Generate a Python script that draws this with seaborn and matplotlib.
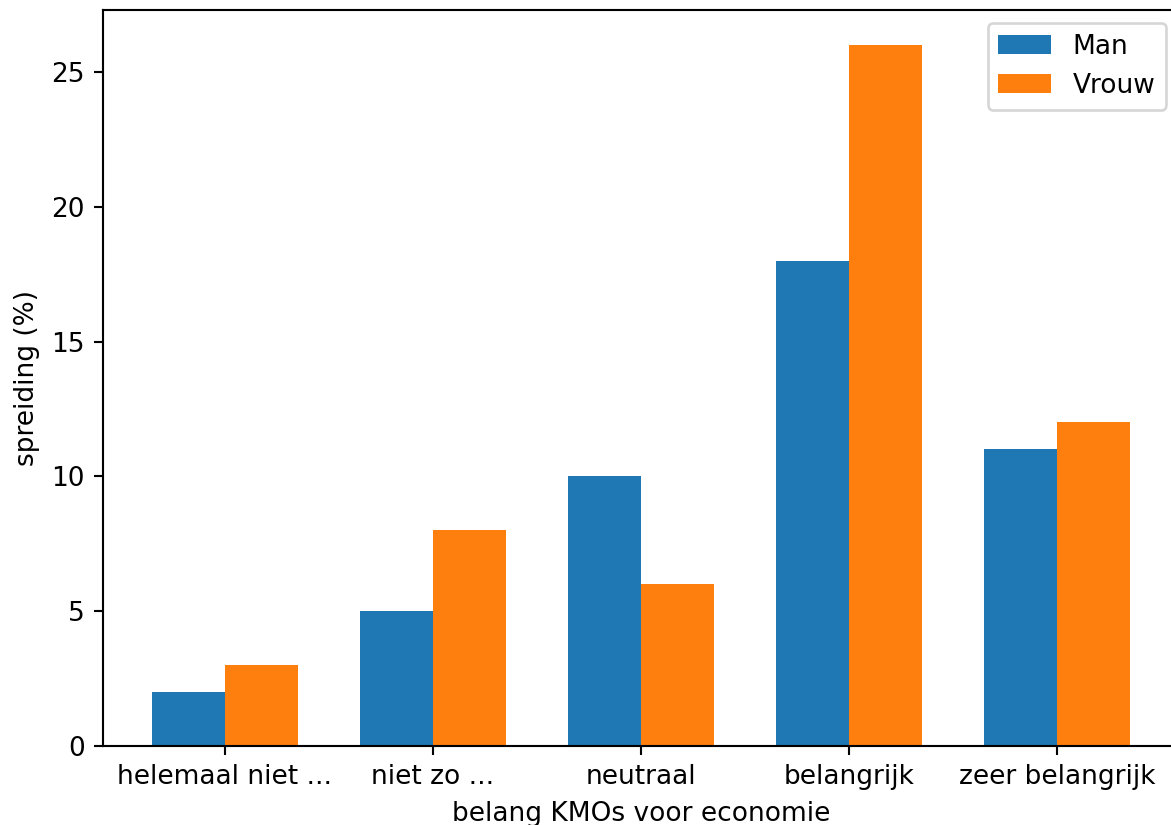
import seaborn as sns
import matplotlib.pyplot as plt
import pandas as pd

# -------------------------------
# Data
# -------------------------------
categories = ["helemaal niet ...", "niet zo ...", "neutraal", "belangrijk", "zeer belangrijk"]
man = [2, 5, 10, 18, 11]
vrouw = [3, 8, 6, 26, 12]

df = pd.DataFrame({
    "belang": categories * 2,
    "spreiding": man + vrouw,
    "geslacht": ["Man"] * len(categories) + ["Vrouw"] * len(categories),
})

# -------------------------------
# Plot (reference is a tight crop, right spine falls just outside)
# -------------------------------
dpi = 190
W, H = 1171, 825
fig = plt.figure(figsize=(W / dpi, H / dpi), dpi=dpi)
ax = fig.add_axes([103 / W, (H - 746) / H, (1179 - 103) / W, (746 - 10) / H])

sns.barplot(
    data=df, x="belang", y="spreiding", hue="geslacht",
    palette=["#1f77b4", "#ff7f0e"], width=0.7, saturation=1,
    errorbar=None, ax=ax,
)

ax.set_xlim(-0.585, 4.585)
ax.set_ylim(0, 27.3)
ax.set_xlabel("belang KMOs voor economie")
ax.set_ylabel("spreiding (%)")
sns.move_legend(ax, "upper right", title=None)

plt.savefig("out.png", dpi=dpi)
plt.close()
